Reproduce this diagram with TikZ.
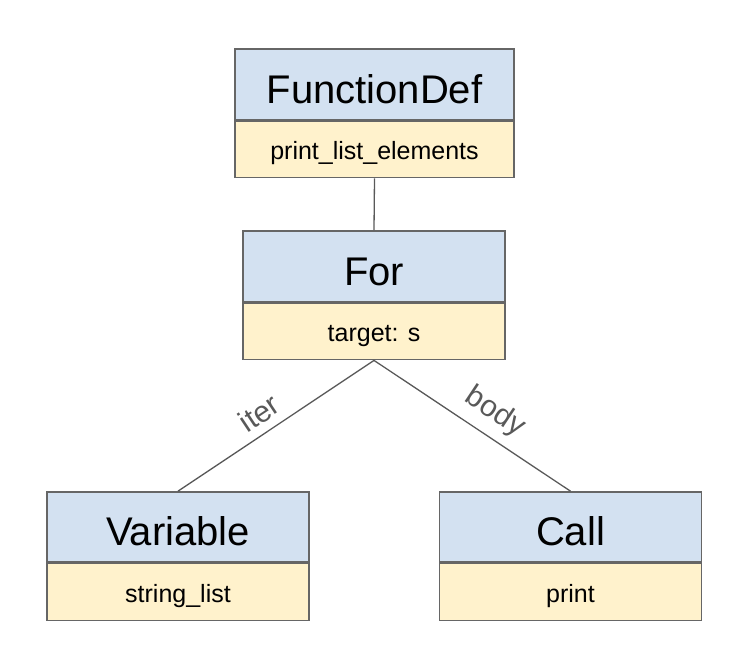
\documentclass[tikz,border=0pt]{standalone}
\usepackage{fontspec}
\setmainfont{Liberation Sans}
\definecolor{hdblue}{HTML}{D3E1F1}
\definecolor{subyel}{HTML}{FFF2CC}
\definecolor{bordergrey}{HTML}{666666}
\definecolor{linegrey}{HTML}{595959}
\begin{document}
\begin{tikzpicture}[x=1pt,y=1pt,
  titlebox/.style={draw=bordergrey, line width=1.6pt, fill=hdblue, minimum height=71pt, inner sep=0pt,
    font=\fontsize{40}{44}\selectfont, text height=38pt, text depth=0pt},
  subbox/.style={draw=bordergrey, line width=1.6pt, fill=subyel, minimum height=56pt, inner sep=0pt,
    anchor=north, font=\fontsize{25}{28}\selectfont, text height=20pt, text depth=0pt},
  conn/.style={draw=linegrey, line width=1.3pt},
  elabel/.style={sloped, text=linegrey, font=\fontsize{30}{33}\selectfont}
]
\useasboundingbox (0,0) rectangle (742,650);
% FunctionDef
\node[titlebox, minimum width=279pt] (fd) at (374.5,565.5) {FunctionDef};
\node[subbox, minimum width=279pt] (fds) at (fd.south) {print\_list\_elements};
% For
\node[titlebox, minimum width=262pt] (for) at (374,383.5) {For};
\node[subbox, minimum width=262pt] (fors) at (for.south) {target: s};
% Variable
\node[titlebox, minimum width=262pt, minimum height=70pt] (var) at (178,123) {Variable};
\node[subbox, minimum width=262pt, minimum height=57pt] (vars) at (var.south) {string\_list};
% Call
\node[titlebox, minimum width=262pt, minimum height=70pt] (call) at (570.5,123) {Call};
\node[subbox, minimum width=262pt, minimum height=57pt] (calls) at (call.south) {print};
% connectors
\draw[conn] (fds.south) -- (for.north);
\draw[conn] (fors.south) -- (var.north) node[elabel, pos=0.53, above=5pt] {iter};
\draw[conn] (fors.south) -- (call.north) node[elabel, pos=0.55, above=6pt] {body};
\end{tikzpicture}
\end{document}
